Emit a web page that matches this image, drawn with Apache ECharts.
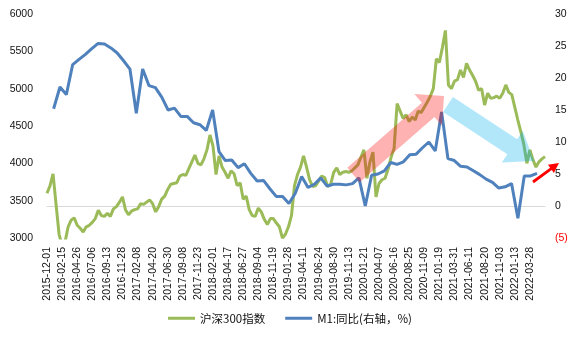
<!DOCTYPE html>
<html><head><meta charset="utf-8">
<script src="https://cdn.jsdelivr.net/npm/echarts@6/dist/echarts.min.js"></script>
<style>html,body{margin:0;padding:0;background:#fff}#c{width:580px;height:342px}</style>
</head><body><div id="c"></div>
<script>
// x-axis tick labels (every 50 trading days)
const tickLabels = ['2015-12-01','2016-02-15','2016-04-26','2016-07-06','2016-09-13','2016-11-28','2017-02-08','2017-04-20','2017-06-30','2017-09-08','2017-11-23','2018-02-01','2018-04-17','2018-06-27','2018-09-04','2018-11-19','2019-01-28','2019-04-11','2019-06-24','2019-08-30','2019-11-13','2020-01-21','2020-04-07','2020-06-16','2020-08-25','2020-11-09','2021-01-19','2021-03-31','2021-06-11','2021-08-20','2021-11-03','2022-01-13','2022-03-28'];
// 沪深300指数, sampled every 10 trading days
const csi300 = [3600,3700,3860,3450,3050,2900,2950,3150,3240,3270,
3170,3130,3080,3150,3170,3210,3260,3370,3300,3290,
3330,3290,3390,3420,3480,3550,3380,3310,3360,3380,
3390,3460,3450,3480,3510,3460,3350,3420,3520,3560,
3650,3720,3730,3740,3830,3850,3840,3930,4020,4110,
4000,3980,4060,4180,4380,4230,3850,4100,3950,3880,
3800,3900,3860,3700,3740,3520,3560,3380,3300,3290,
3400,3350,3250,3180,3260,3260,3200,3150,3000,3050,
3150,3300,3700,3850,3950,4100,3950,3780,3690,3700,
3760,3830,3810,3690,3720,3880,3940,3850,3880,3890,
3880,3900,3940,3980,4080,4180,3800,4020,4150,3550,
3730,3780,3800,3920,4080,4200,4800,4700,4600,4650,
4560,4620,4580,4700,4680,4750,4820,4900,5000,5400,
5350,5550,5780,5050,5000,5100,5120,5250,5150,5340,
5250,5180,5100,4980,5000,4780,4940,4870,4880,4900,
4870,4940,5050,4950,4920,4750,4580,4420,4250,4000,
4180,4050,3950,4020,4060,4090];
// M1同比 (%), monthly, 2015-12 .. 2022-04
const m1 = [15.2,18.6,17.4,22.1,22.9,23.7,24.6,25.4,25.3,24.7,23.9,22.7,21.4,
14.5,21.4,18.8,18.5,17.0,15.0,15.3,14.0,14.0,13.0,12.7,11.8,
15.0,8.5,7.1,7.2,6.0,6.6,5.1,3.9,4.0,2.7,1.5,1.5,
0.4,2.0,4.6,2.9,3.4,4.4,3.1,3.4,3.4,3.3,3.5,4.4,
0.0,4.8,5.0,5.5,6.8,6.5,6.9,8.0,8.1,9.1,10.0,8.6,
14.7,7.4,7.1,6.2,6.1,5.5,4.9,4.2,3.7,2.8,3.0,3.5,
-1.9,4.7,4.7,5.1];
const seriesNames = ['沪深300指数','M1:同比(右轴，%)'];

const categories = csi300.map((_, i) => (i % 5 === 0 && tickLabels[i / 5]) ? tickLabels[i / 5] : '');

const chart = echarts.init(document.getElementById('c'), null, {renderer: 'canvas'});

function arrow(sx, sy, tx, ty, sw, hw, hl) {
  const dx = tx - sx, dy = ty - sy, L = Math.hypot(dx, dy);
  const ux = dx / L, uy = dy / L, px = -uy, py = ux;
  const bx = tx - ux * hl, by = ty - uy * hl;
  return [
    [sx + px * sw, sy + py * sw], [bx + px * sw, by + py * sw], [bx + px * hw, by + py * hw],
    [tx, ty], [bx - px * hw, by - py * hw], [bx - px * sw, by - py * sw], [sx - px * sw, sy - py * sw]
  ];
}

const FONT = "'Liberation Sans','Noto Sans CJK SC',sans-serif";
chart.setOption({
  animation: false,
  backgroundColor: '#fff',
  textStyle: {fontFamily: FONT},
  grid: {left: 47, right: 35, top: 14, bottom: 104},
  legend: {
    bottom: 13, left: 'center', itemWidth: 27, itemHeight: 3, itemGap: 20,
    textStyle: {fontSize: 11.5, color: '#111', fontFamily: "'Noto Sans CJK SC',sans-serif"},
    data: [{name: seriesNames[0], icon: 'rect'}, {name: seriesNames[1], icon: 'rect'}]
  },
  xAxis: [{
    type: 'category', data: categories, boundaryGap: false,
    axisLine: {lineStyle: {color: '#d9d9d9', width: 1}},
    axisTick: {show: false},
    axisLabel: {interval: 0, rotate: 90, fontSize: 10.5, color: '#111', margin: 9}
  }, {
    type: 'value', show: false, min: -1.04, max: 77.26
  }],
  yAxis: [{
    type: 'value', min: 3000, max: 6000, interval: 500, position: 'left',
    axisLine: {show: false}, axisTick: {show: false}, splitLine: {show: false},
    axisLabel: {fontSize: 10.5, color: '#111', margin: 14, formatter: v => String(v)}
  }, {
    type: 'value', min: -5, max: 30, interval: 5, position: 'right',
    axisLine: {show: false}, axisTick: {show: false}, splitLine: {show: false},
    axisLabel: {
      fontSize: 10.5, color: '#111', margin: 10,
      formatter: v => v < 0 ? '{neg|(' + (-v) + ')}' : String(v),
      rich: {neg: {color: '#ff0000', fontSize: 10.5}}
    }
  }],
  series: [{
    name: seriesNames[0], type: 'line', data: csi300, xAxisIndex: 0, yAxisIndex: 0,
    symbol: 'none', lineStyle: {color: '#9bbb59', width: 3}, itemStyle: {color: '#9bbb59'}, z: 2
  }, {
    name: seriesNames[1], type: 'line', data: m1.map((v, i) => [i, v]), xAxisIndex: 1, yAxisIndex: 1,
    symbol: 'none', lineStyle: {color: '#4f81bd', width: 3}, itemStyle: {color: '#4f81bd'}, z: 3
  }],
  graphic: [
    {type: 'polygon', z: 100, shape: {points: arrow(353.5, 175, 444, 96, 9.5, 21, 21)}, style: {fill: 'rgba(255,0,0,0.3)'}},
    {type: 'polygon', z: 100, shape: {points: arrow(448, 104.5, 534, 161, 9, 19, 26)}, style: {fill: 'rgba(0,176,240,0.3)'}},
    {type: 'polygon', z: 101, shape: {points: arrow(533, 182, 559, 163, 1.4, 5, 10)}, style: {fill: '#ff0000'}}
  ]
});
</script></body></html>
